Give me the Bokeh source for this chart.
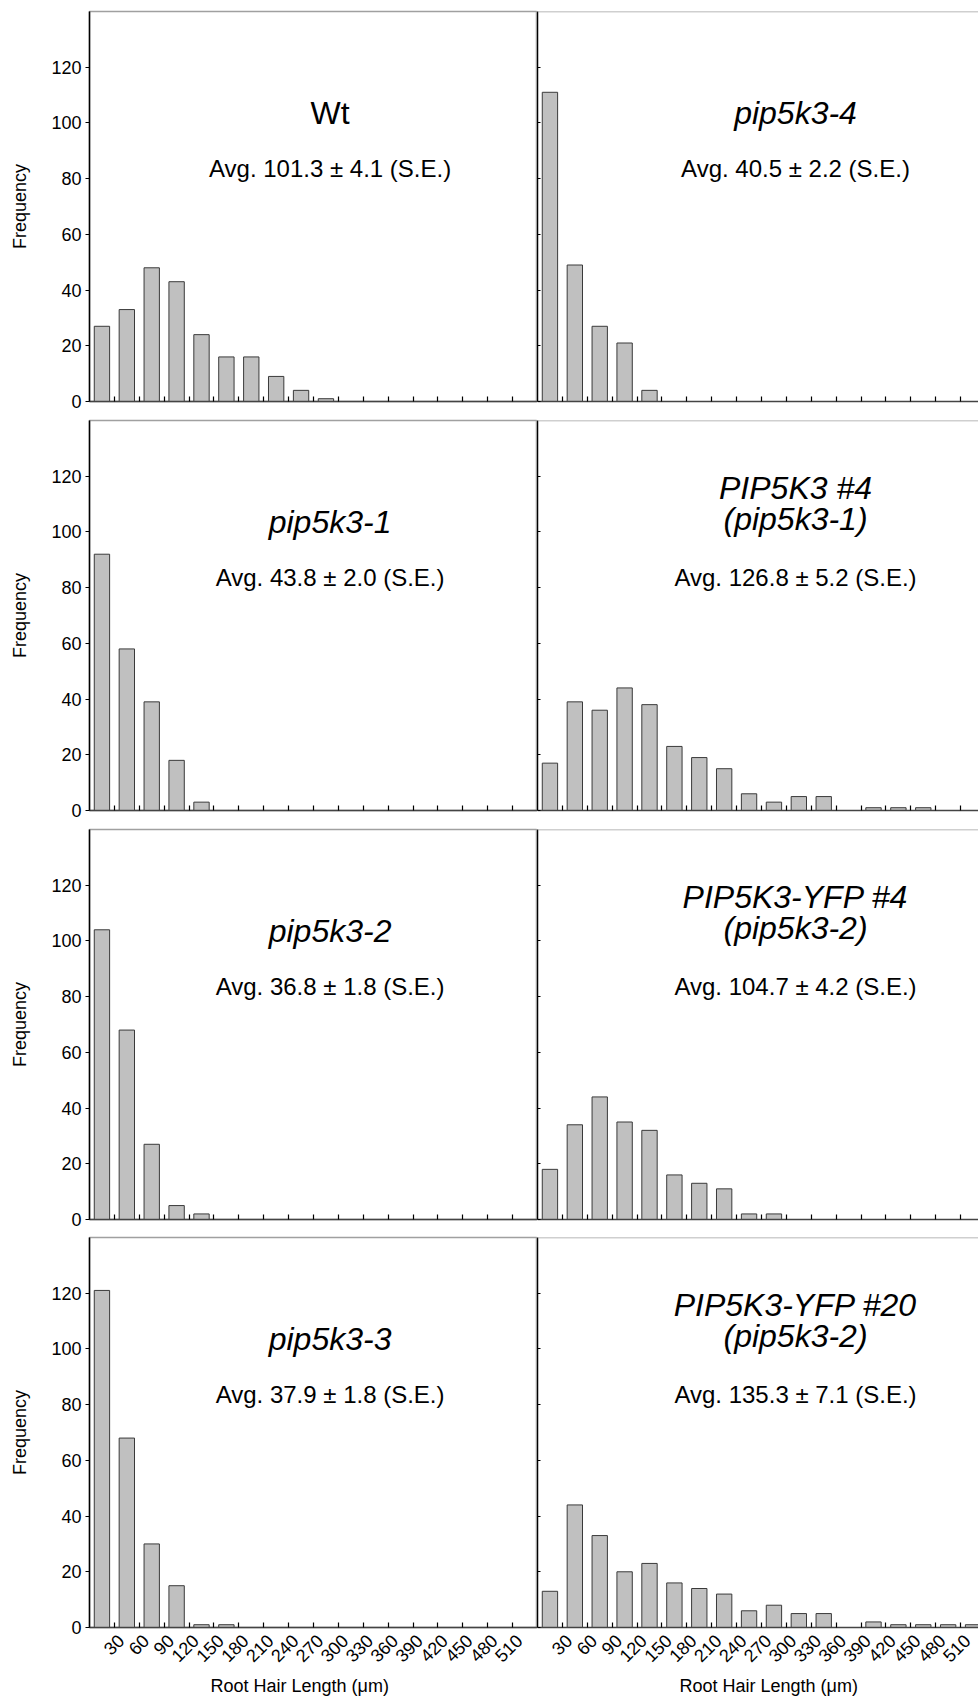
import math
from bokeh.plotting import figure
from bokeh.models import Range1d, FixedTicker, Span, LinearAxis, Title
from bokeh.layouts import column, row
from bokeh.core.properties import value
from bokeh.embed import file_html
from bokeh.resources import INLINE

# ---------------- data ----------------
bin_centers = [15, 45, 75, 105, 135, 165, 195, 225, 255, 285, 315, 345, 375, 405, 435, 465, 495, 525]
x_tick_values = [30, 60, 90, 120, 150, 180, 210, 240, 270, 300, 330, 360, 390, 420, 450, 480, 510]
x_tick_labels = ["30", "60", "90", "120", "150", "180", "210", "240", "270", "300", "330", "360",
                 "390", "420", "450", "480", "510"]
y_tick_values = [0, 20, 40, 60, 80, 100, 120]

wt            = [27, 33, 48, 43, 24, 16, 16, 9, 4, 1, 0, 0, 0, 0, 0, 0, 0, 0]
pip5k3_4      = [111, 49, 27, 21, 4, 0, 0, 0, 0, 0, 0, 0, 0, 0, 0, 0, 0, 0]
pip5k3_1      = [92, 58, 39, 18, 3, 0, 0, 0, 0, 0, 0, 0, 0, 0, 0, 0, 0, 0]
pip5k3_no4    = [17, 39, 36, 44, 38, 23, 19, 15, 6, 3, 5, 5, 0, 1, 1, 1, 0, 0]
pip5k3_2      = [104, 68, 27, 5, 2, 0, 0, 0, 0, 0, 0, 0, 0, 0, 0, 0, 0, 0]
yfp_no4       = [18, 34, 44, 35, 32, 16, 13, 11, 2, 2, 0, 0, 0, 0, 0, 0, 0, 0]
pip5k3_3      = [121, 68, 30, 15, 1, 1, 0, 0, 0, 0, 0, 0, 0, 0, 0, 0, 0, 0]
yfp_no20      = [13, 44, 33, 20, 23, 16, 14, 12, 6, 8, 5, 5, 0, 2, 1, 1, 1, 1]

series = [wt, pip5k3_4, pip5k3_1, pip5k3_no4, pip5k3_2, yfp_no4, pip5k3_3, yfp_no20]
titles = [["Wt"], ["pip5k3-4"], ["pip5k3-1"], ["PIP5K3 #4", "(pip5k3-1)"],
          ["pip5k3-2"], ["PIP5K3-YFP #4", "(pip5k3-2)"], ["pip5k3-3"],
          ["PIP5K3-YFP #20", "(pip5k3-2)"]]
averages = ["Avg. 101.3 ± 4.1 (S.E.)", "Avg. 40.5 ± 2.2 (S.E.)", "Avg. 43.8 ± 2.0 (S.E.)",
            "Avg. 126.8 ± 5.2 (S.E.)", "Avg. 36.8 ± 1.8 (S.E.)", "Avg. 104.7 ± 4.2 (S.E.)",
            "Avg. 37.9 ± 1.8 (S.E.)", "Avg. 135.3 ± 7.1 (S.E.)"]
y_label = "Frequency"
x_label = "Root Hair Length (μm)"

# ---------------- style / layout ----------------
FONT = "Liberation Sans"
FRAME_H = 390
LEFT_BORDER = 89
LEFT_FRAME_W = 448
RIGHT_FRAME_W = 441
X_MAX = 540
Y_MAX = 140
BAR_W = 18.5
UM_PER_PX = X_MAX / LEFT_FRAME_W
LABEL_SHIFT_PX = 6.5          # rotated tick labels are centred on their tick
row_top_borders = [11, 3, 3, 3]
row_bottom_borders = [16, 16, 15, 72]
x_title_offsets = [121, 142]  # left / right column
TITLE_Y_ONE = [103.7]
TITLE_Y_TWO = [115.6, 104.5]
AVG_Y = 83.6


def make_panel(i):
    left = (i % 2 == 0)
    r = i // 2
    bottom_row = (r == 3)
    tb = row_top_borders[r]
    bb = row_bottom_borders[r]
    if left:
        w = LEFT_BORDER + LEFT_FRAME_W
        x_end = X_MAX
        mbl = LEFT_BORDER
    else:
        w = RIGHT_FRAME_W
        x_end = RIGHT_FRAME_W * UM_PER_PX
        mbl = 0
    h = tb + FRAME_H + bb
    p = figure(width=w, height=h, output_backend="svg", toolbar_location=None, tools="",
               x_range=Range1d(0, x_end), y_range=Range1d(0, Y_MAX),
               min_border_left=mbl, min_border_right=0, min_border_top=tb, min_border_bottom=bb)
    p.grid.visible = False
    p.background_fill_color = "white"
    p.border_fill_color = "white"
    if left:
        p.outline_line_color = "#a0a0a0"
        p.outline_line_width = 1.5
    else:
        p.outline_line_color = None
        p.add_layout(Span(location=Y_MAX, dimension="width", line_color="#a0a0a0", line_width=1.5))

    p.vbar(x=bin_centers, top=series[i], width=BAR_W, bottom=0,
           fill_color="#c0c0c0", line_color="#3a3a3a", line_width=1)

    # titles
    xc = 290 if left else 311
    lines = titles[i]
    ys = TITLE_Y_ONE if len(lines) == 1 else TITLE_Y_TWO
    for ln, yy in zip(lines, ys):
        style = "normal" if ln == "Wt" else "italic"
        p.text(x=[xc], y=[yy], text=[ln], text_font=value(FONT), text_font_size="32px",
               text_font_style=style, text_align="center", text_baseline="alphabetic",
               text_color="black")
    p.text(x=[xc], y=[AVG_Y], text=[averages[i]], text_font=value(FONT), text_font_size="24px",
           text_align="center", text_baseline="alphabetic", text_color="black")

    # y axis
    yax = p.yaxis[0]
    yax.ticker = FixedTicker(ticks=y_tick_values)
    yax.axis_line_color = "black"
    yax.axis_line_width = 1.5
    yax.major_tick_line_color = "black"
    yax.major_tick_line_width = 1.2
    yax.minor_tick_line_color = None
    if left:
        yax.major_tick_out = 4
        yax.major_tick_in = 0
        yax.major_label_standoff = 4
        yax.major_label_text_font = FONT
        yax.major_label_text_font_size = "18px"
        yax.major_label_text_color = "black"
        yax.axis_label = y_label
        yax.axis_label_text_font = FONT
        yax.axis_label_text_font_size = "18px"
        yax.axis_label_text_font_style = "normal"
        yax.axis_label_text_color = "black"
        yax.axis_label_standoff = 18
    else:
        yax.major_tick_out = 0
        yax.major_tick_in = 3
        yax.major_label_standoff = 0
        yax.major_label_overrides = {t: "" for t in y_tick_values}
        yax.major_label_text_font_size = "1px"

    # x axis (tick marks)
    xax = p.xaxis[0]
    xax.ticker = FixedTicker(ticks=x_tick_values)
    xax.axis_line_color = "#444444"
    xax.axis_line_width = 1.5
    xax.major_tick_line_color = "black"
    xax.major_tick_line_width = 1.2
    xax.minor_tick_line_color = None
    xax.major_tick_out = 0
    xax.major_tick_in = 5
    xax.major_label_overrides = {t: "" for t in x_tick_values}
    xax.major_label_standoff = 0
    xax.major_label_text_font_size = "1px"

    if bottom_row:
        shift = round(LABEL_SHIFT_PX * UM_PER_PX, 3)
        lab_ticks = [round(v + shift, 3) for v in x_tick_values]
        lax = LinearAxis(ticker=FixedTicker(ticks=lab_ticks),
                         major_label_overrides={t: s for t, s in zip(lab_ticks, x_tick_labels)},
                         axis_line_color=None, major_tick_line_color=None,
                         minor_tick_line_color=None, major_tick_in=0, major_tick_out=0,
                         major_label_orientation=math.pi / 4, major_label_standoff=10,
                         major_label_text_font=FONT, major_label_text_font_size="18px",
                         major_label_text_color="black")
        p.add_layout(lax, "below")
        p.add_layout(Title(text=x_label, align="left", offset=x_title_offsets[0 if left else 1],
                           text_font=FONT, text_font_size="18px", text_font_style="normal",
                           text_color="black", standoff=6), "below")
    return p


panels = [make_panel(i) for i in range(8)]
layout = column(row(panels[0], panels[1]), row(panels[2], panels[3]),
                row(panels[4], panels[5]), row(panels[6], panels[7]))

open("out.html", "w").write(file_html(layout, INLINE))
